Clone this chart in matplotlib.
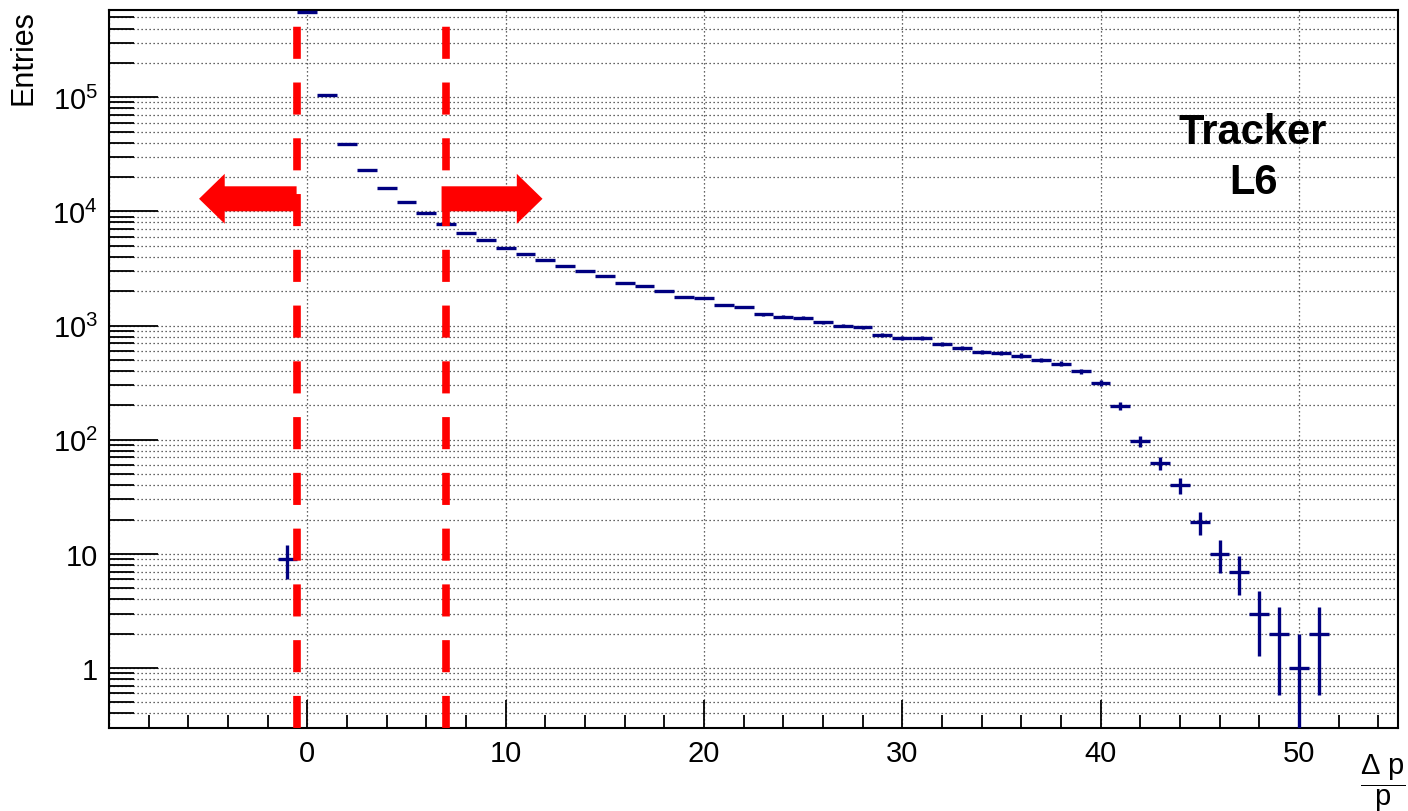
import numpy as np
import matplotlib
matplotlib.use("Agg")
import matplotlib.pyplot as plt
from matplotlib.ticker import MultipleLocator, LogLocator, FuncFormatter, NullFormatter

plt.rcParams['font.family'] = ['Liberation Sans', 'DejaVu Sans']
plt.rcParams['mathtext.fontset'] = 'custom'
plt.rcParams['mathtext.rm'] = 'Liberation Sans'
plt.rcParams['mathtext.it'] = 'Liberation Sans'
plt.rcParams['mathtext.default'] = 'regular'

# histogram bins (centres, width 1) and counts
bin_centres = np.arange(-1, 52)
counts = np.array([9, 5.55e5, 1.05e5, 3.87e4, 2.31e4, 1.61e4, 1.21e4, 9.7e3, 7.8e3, 6.44e3,
                   5.66e3, 4.79e3, 4.24e3, 3.74e3, 3.35e3, 3.01e3, 2.71e3, 2.35e3, 2.24e3, 2.0e3,
                   1.79e3, 1.75e3, 1.52e3, 1.45e3, 1.26e3, 1.2e3, 1.17e3, 1.07e3, 994, 968,
                   824, 780, 776, 695, 638, 589, 577, 546, 501, 465,
                   396, 315, 198, 97, 62, 40, 19, 10, 7, 3,
                   2, 1, 2], dtype=float)
cuts = [-0.5, 7.0]              # red dashed selection lines
arrow_y = 1.29e4
arrows = [(-0.54, -5.46), (6.77, 11.86)]   # (tail, tip)

navy = '#000080'
ymin, ymax = 0.30, 5.85e5

fig = plt.figure(figsize=(14.08, 8.12), dpi=100)
ax = fig.add_axes([109/1408, 1-728.7/812, (1398-109)/1408, (728.7-10.7)/812])
ax.set_yscale('log')
ax.set_xlim(-10, 55)
ax.set_ylim(ymin, ymax)

ax.errorbar(bin_centres, counts, xerr=0.5, yerr=np.sqrt(counts), fmt='none',
            ecolor=navy, elinewidth=2.4, capsize=0, zorder=4)

for c in cuts:
    ax.plot([c, c], [ymin, ymax], color='red', lw=5.5,
            linestyle=(0, (4.2, 3.1)), solid_capstyle='butt', zorder=5)

for tail, tip in arrows:
    ax.annotate('', xy=(tip, arrow_y), xytext=(tail, arrow_y),
                arrowprops=dict(arrowstyle='simple,head_length=1.85,head_width=3.6,tail_width=1.8',
                                color='red', lw=0, shrinkA=0, shrinkB=0, mutation_scale=10),
                zorder=6)

ax.text(0.8876, 0.795, 'Tracker\nL6', transform=ax.transAxes, ha='center', va='center',
        fontsize=30, fontweight='bold', linespacing=1.3)

ax.xaxis.set_major_locator(MultipleLocator(10))
ax.xaxis.set_minor_locator(MultipleLocator(2))
ax.xaxis.set_major_formatter(FuncFormatter(lambda v, pos: '' if v < 0 else '%d' % v))
ax.yaxis.set_major_locator(LogLocator(base=10, numticks=20))
ax.yaxis.set_minor_locator(LogLocator(base=10, subs=np.arange(2, 10), numticks=20))
ax.yaxis.set_minor_formatter(NullFormatter())

def fmt_y(v, pos):
    e = int(round(np.log10(v)))
    if e == 0:
        return '1'
    if e == 1:
        return '10'
    return r'$10^{%d}$' % e

ax.yaxis.set_major_formatter(FuncFormatter(fmt_y))

ax.tick_params(which='both', direction='in', top=False, right=False, labelsize=21, width=1.3)
ax.tick_params(axis='x', which='major', length=20, pad=8)
ax.tick_params(axis='x', which='minor', length=9.5)
ax.tick_params(axis='y', which='major', length=35, pad=8)
ax.tick_params(axis='y', which='minor', length=18)

ax.grid(True, axis='x', which='major', color='#333333', lw=0.9, linestyle=(0, (1, 2.2)))
ax.grid(True, axis='y', which='both', color='#333333', lw=0.9, linestyle=(0, (1, 2.2)))
ax.set_axisbelow(True)
for s in ax.spines.values():
    s.set_linewidth(1.5)

fig.text(24/1408, 1-10/812, 'Entries', rotation=90, ha='center', va='top', fontsize=22)
fig.text(1383/1408, 1-783/812, r'$\dfrac{\Delta\ p}{p}$', ha='center', va='center', fontsize=21)

fig.savefig('out.png', dpi=100)
